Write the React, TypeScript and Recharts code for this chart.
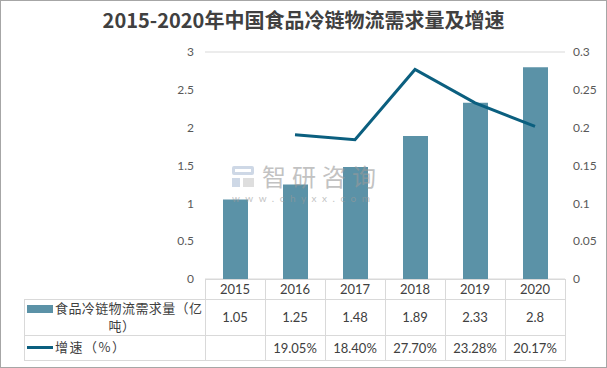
import React from "react";
import { ComposedChart, Bar, Line, XAxis, YAxis, CartesianGrid } from "recharts";

const years = ["2015", "2016", "2017", "2018", "2019", "2020"];
const demand = [1.05, 1.25, 1.48, 1.89, 2.33, 2.8];
const growth: (number | null)[] = [null, 0.1905, 0.184, 0.277, 0.2328, 0.2017];
const leftTicks = [0, 0.5, 1, 1.5, 2, 2.5, 3];
const rightTicks = [0, 0.05, 0.1, 0.15, 0.2, 0.25, 0.3];

const barName = "食品冷链物流需求量（亿吨）";
const lineName = "增速（%）";

const BAR_COLOR = "#5b92a7";
const LINE_COLOR = "#0b5f7f";
const GRID = "#d9d9d9";
const TEXT = "#404040";
const FONT = "Lato, 'Noto Sans CJK SC', sans-serif";
const CJK = "'Noto Sans CJK SC', sans-serif";

const data = years.map((y, i) => ({ year: y, demand: demand[i], growth: growth[i] }));

const pct = (g: number | null) => (g == null ? "" : (g * 100).toFixed(2) + "%");

// table geometry
const T_LEFT = 24;
const C_LEFT = 205;
const C_W = 60;
const ROWS = [279, 299, 335, 360];

const abs = (s: React.CSSProperties): React.CSSProperties => ({ position: "absolute", ...s });

function DataTable() {
  const right = C_LEFT + C_W * years.length;
  const hLines = ROWS.map((y, i) => (
    <div
      key={"h" + i}
      style={abs({ left: i === 0 ? C_LEFT : T_LEFT, top: y, width: right - (i === 0 ? C_LEFT : T_LEFT) + 1, height: 1, background: GRID })}
    />
  ));
  const vLines = [
    <div key="v0" style={abs({ left: T_LEFT, top: ROWS[1], width: 1, height: ROWS[3] - ROWS[1], background: GRID })} />,
    ...Array.from({ length: years.length + 1 }, (_, i) => (
      <div key={"v" + (i + 1)} style={abs({ left: C_LEFT + i * C_W, top: ROWS[0], width: 1, height: ROWS[3] - ROWS[0], background: GRID })} />
    )),
  ];
  const cellText = (txt: string, col: number, row: number) => (
    <div
      key={`${row}-${col}`}
      style={abs({
        left: C_LEFT + col * C_W,
        top: ROWS[row],
        width: C_W,
        height: ROWS[row + 1] - ROWS[row],
        display: "flex",
        alignItems: "center",
        justifyContent: "center",
        fontSize: 13,
        color: TEXT,
        fontFamily: FONT,
      })}
    >
      {txt}
    </div>
  );
  return (
    <>
      {hLines}
      {vLines}
      {years.map((y, i) => cellText(y, i, 0))}
      {demand.map((v, i) => cellText(String(v), i, 1))}
      {growth.map((g, i) => cellText(pct(g), i, 2))}
      {/* series labels */}
      <div style={abs({ left: 27, top: 305, width: 26, height: 8, background: BAR_COLOR })} />
      <svg style={abs({ left: 0, top: 296, overflow: "visible" })} width={210} height={40}>
        <text x={55} y={17} fontSize={13} fill={TEXT} fontFamily={CJK} letterSpacing={0.4}>
          {barName.slice(0, 11)}
        </text>
        <text x={122} y={35} fontSize={13} fill={TEXT} fontFamily={CJK} textAnchor="middle" letterSpacing={0.4}>
          {barName.slice(11)}
        </text>
      </svg>
      <div style={abs({ left: 27, top: 346, width: 26, height: 3, background: LINE_COLOR })} />
      <div
        style={abs({ left: 55, top: 338, whiteSpace: "nowrap", fontSize: 13, lineHeight: "18px", color: TEXT, fontFamily: CJK, letterSpacing: 1.5 })}
      >
        {lineName}
      </div>
    </>
  );
}

export default function App() {
  return (
    <div
      style={{
        position: "absolute",
        left: 0,
        top: 0,
        width: 607,
        height: 368,
        background: "#fff",
        fontFamily: FONT,
      }}
    >
      <div
        style={abs({
          top: 7,
          left: 0,
          width: 607,
          textAlign: "center",
          fontSize: 20,
          lineHeight: "26px",
          fontWeight: 700,
          color: TEXT,
          fontFamily: CJK,
        })}
      >
        2015-2020年中国食品冷链物流需求量及增速
      </div>

      <ComposedChart
        width={607}
        height={368}
        data={data}
        margin={{ top: 52, right: 0, left: 148, bottom: 89 }}
      >
        <CartesianGrid vertical={false} stroke={GRID} />
        <XAxis dataKey="year" hide />
        <YAxis
          yAxisId="left"
          width={57}
          domain={[0, 3]}
          ticks={leftTicks}
          axisLine={false}
          tickLine={false}
          tickMargin={5}
          tick={{ fill: "#595959", fontSize: 12, fontFamily: FONT }}
        />
        <YAxis
          yAxisId="right"
          orientation="right"
          width={42}
          domain={[0, 0.3]}
          ticks={rightTicks}
          axisLine={false}
          tickLine={false}
          tick={{ fill: "#595959", fontSize: 12, fontFamily: FONT }}
        />
        <Bar
          yAxisId="left"
          dataKey="demand"
          name={barName}
          fill={BAR_COLOR}
          barSize={25}
          isAnimationActive={false}
        />
        <Line
          yAxisId="right"
          type="linear"
          dataKey="growth"
          name={lineName}
          stroke={LINE_COLOR}
          strokeWidth={3}
          dot={false}
          isAnimationActive={false}
        />
      </ComposedChart>

      {/* watermark */}
      <div style={abs({ left: 232, top: 164, pointerEvents: "none", opacity: 0.6 })}>
        <div style={abs({ left: 0, top: 2, width: 22, height: 21 })}>
          <div style={abs({ left: 0, top: 0, width: 22, height: 9, border: "3px solid #aebfd6", boxSizing: "border-box", borderRadius: 2 })} />
          <div style={abs({ left: 0, top: 12, width: 8, height: 9, background: "#aebfd6" })} />
          <div style={abs({ left: 11, top: 12, width: 11, height: 9, background: "#c9c9c9" })} />
        </div>
        <div
          style={abs({
            left: 30,
            top: 0,
            whiteSpace: "nowrap",
            fontSize: 24,
            lineHeight: "24px",
            letterSpacing: 6,
            color: "#9a9a9a",
            fontFamily: CJK,
          })}
        >
          智研咨询
        </div>
        <div
          style={abs({
            left: 0,
            top: 29,
            whiteSpace: "nowrap",
            fontSize: 10,
            lineHeight: "10px",
            letterSpacing: 5.5,
            color: "#9a9a9a",
          })}
        >
          www.chyxx.com
        </div>
      </div>

      <DataTable />

      <div
        style={abs({
          left: 0,
          top: 0,
          width: 607,
          height: 368,
          border: "1px solid #a6a6a6",
          boxSizing: "border-box",
          pointerEvents: "none",
        })}
      />
    </div>
  );
}
